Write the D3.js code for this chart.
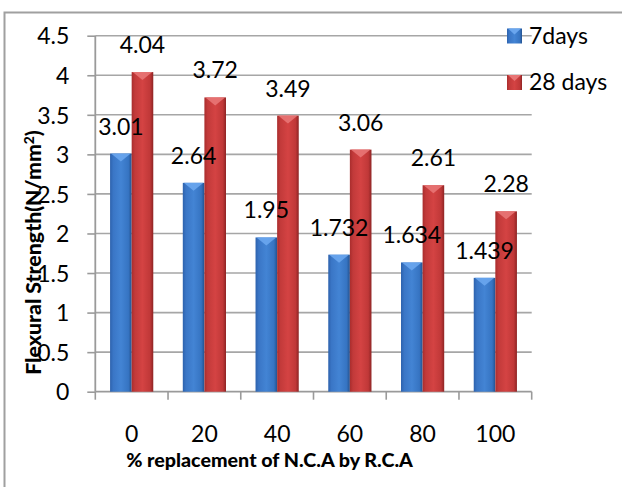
<!DOCTYPE html>
<html><head><meta charset="utf-8">
<script src="https://cdn.jsdelivr.net/npm/d3@7"></script>
<style>body{margin:0;background:#fff}svg{display:block}</style>
</head><body>
<svg id="c" width="622" height="487"></svg>
<script>
const categories = ["0","20","40","60","80","100"];
const days7 = [3.01, 2.64, 1.95, 1.732, 1.634, 1.439];
const days28 = [4.04, 3.72, 3.49, 3.06, 2.61, 2.28];
const seriesNames = ["7days","28 days"];
const yTicks = [0,0.5,1,1.5,2,2.5,3,3.5,4,4.5];

const svg = d3.select("#c");
const FONT = "Lato, 'Open Sans', sans-serif";
const L = 95.3, R = 531.7, T = 35.7, B = 391.7;

const x0 = d3.scaleBand().domain(categories).range([L, R]).padding(0);
const bw = x0.bandwidth();
const x1 = d3.scaleBand().domain(seriesNames).range([bw*0.203, bw*0.797]).padding(0);
const y = d3.scaleLinear().domain([0, 4.5]).range([B, T]);

// outer border
svg.append("path").attr("d","M4.5,487 L4.5,12.5 L622,12.5").attr("fill","none").attr("stroke","#a0a0a0").attr("stroke-width",2);

// gradients
const defs = svg.append("defs");
function grad(id, stops){
  const g = defs.append("linearGradient").attr("id",id).attr("x1","0").attr("x2","1").attr("y1","0").attr("y2","0");
  stops.forEach(s=>g.append("stop").attr("offset",s[0]).attr("stop-color",s[1]));
}
grad("gBlue",[[0,"#2d62ad"],[0.15,"#3a76c6"],[0.5,"#4384d4"],[0.85,"#3674c2"],[1,"#24528f"]]);
grad("gRed",[[0,"#a92d2d"],[0.15,"#c23a3a"],[0.5,"#d44343"],[0.85,"#c03838"],[1,"#8e2424"]]);
const fills = {"7days":"url(#gBlue)","28 days":"url(#gRed)"};
const tops = {"7days":"#6aa6ee","28 days":"#e87575"};

// gridlines
svg.append("g").selectAll("line").data(yTicks.slice(1)).join("line")
  .attr("x1",L).attr("x2",R).attr("y1",d=>y(d)).attr("y2",d=>y(d))
  .attr("stroke","#a6a6a6").attr("stroke-width",1.6);

// y axis
const ya = svg.append("g").attr("transform",`translate(${L},0)`)
  .call(d3.axisLeft(y).tickValues(yTicks).tickSize(8).tickPadding(18).tickFormat(d=>d3.format("")(d)));
ya.select(".domain").attr("stroke","#9a9a9a").attr("stroke-width",1.8).attr("d",`M0,${T}V${B}`);
ya.selectAll(".tick line").attr("stroke","#9a9a9a").attr("stroke-width",1.6);
ya.selectAll(".tick text").attr("font-family",FONT).attr("font-size",23).attr("fill","#000").attr("dy","0.36em");

// x axis
const xa = svg.append("g").attr("transform",`translate(0,${B})`)
  .call(d3.axisBottom(x0).tickSize(0).tickPadding(33.5));
xa.select(".domain").attr("stroke","#9a9a9a").attr("stroke-width",1.8).attr("d",`M${L},0H${R}`);
xa.selectAll(".tick text").attr("font-family",FONT).attr("font-size",23).attr("fill","#000");
const edges = categories.map(c=>x0(c)).concat([x0(categories[categories.length-1])+bw]);
svg.append("g").selectAll("line").data(edges).join("line")
  .attr("x1",d=>d).attr("x2",d=>d).attr("y1",B).attr("y2",B+8)
  .attr("stroke","#9a9a9a").attr("stroke-width",1.6);

// bars
const rows = categories.map((c,i)=>({c, vals:[{s:"7days",v:days7[i]},{s:"28 days",v:days28[i]}]}));
const grp = svg.append("g").selectAll("g").data(rows).join("g").attr("transform",d=>`translate(${x0(d.c)},0)`);
grp.selectAll("rect").data(d=>d.vals).join("rect")
  .attr("x",d=>x1(d.s)).attr("width",x1.bandwidth())
  .attr("y",d=>y(d.v)).attr("height",d=>B-y(d.v)).attr("fill",d=>fills[d.s]);
grp.selectAll("path.tri").data(d=>d.vals).join("path").attr("class","tri")
  .attr("d",d=>{const a=x1(d.s), w=x1.bandwidth(), t=y(d.v); return `M${a+1},${t}L${a+w-1},${t}L${a+w/2},${t+8}Z`;})
  .attr("fill",d=>tops[d.s]).attr("opacity",0.9);
grp.selectAll("text").data(d=>d.vals).join("text")
  .attr("x",d=>x1(d.s)+x1.bandwidth()/2).attr("y",d=>y(d.v)-19)
  .attr("text-anchor","middle").attr("font-family",FONT).attr("font-size",23).attr("fill","#000")
  .text(d=>String(d.v));

// legend
const lg = svg.append("g").selectAll("g").data(seriesNames).join("g")
  .attr("transform",(d,i)=>`translate(507,${28.5+i*46.5})`);
lg.append("rect").attr("width",15).attr("height",15).attr("fill",d=>fills[d]);
lg.append("path").attr("d","M1,0L14,0L7.5,6Z").attr("fill",d=>tops[d]);
lg.append("text").attr("x",22).attr("y",15).attr("font-family",FONT).attr("font-size",23).attr("fill","#000").text(d=>d);

// axis titles
const xt = svg.append("text").attr("x",269.5).attr("y",467).attr("text-anchor","middle")
  .attr("font-family",FONT).attr("font-weight",900).attr("font-size",16.5).attr("fill","#000")
  .text("% replacement of N.C.A by R.C.A");
const xl = xt.node().getComputedTextLength();
xt.attr("font-size", 16.5*287/xl);

const yt = svg.append("text").attr("transform","translate(41,252.5) rotate(-90)").attr("text-anchor","middle")
  .attr("font-family",FONT).attr("font-weight",900).attr("font-size",18.5).attr("fill","#000");
yt.append("tspan").text("Flexural Strength(N/mm");
yt.append("tspan").attr("class","sup").attr("font-size",12).attr("dy",-7).text("2");
yt.append("tspan").attr("dy",7).text(")");
const yl = yt.node().getComputedTextLength();
const ys = Math.min(1.15, 255/yl);
yt.attr("font-size",18.5*ys); yt.select(".sup").attr("font-size",12*ys);
</script>
</body></html>
